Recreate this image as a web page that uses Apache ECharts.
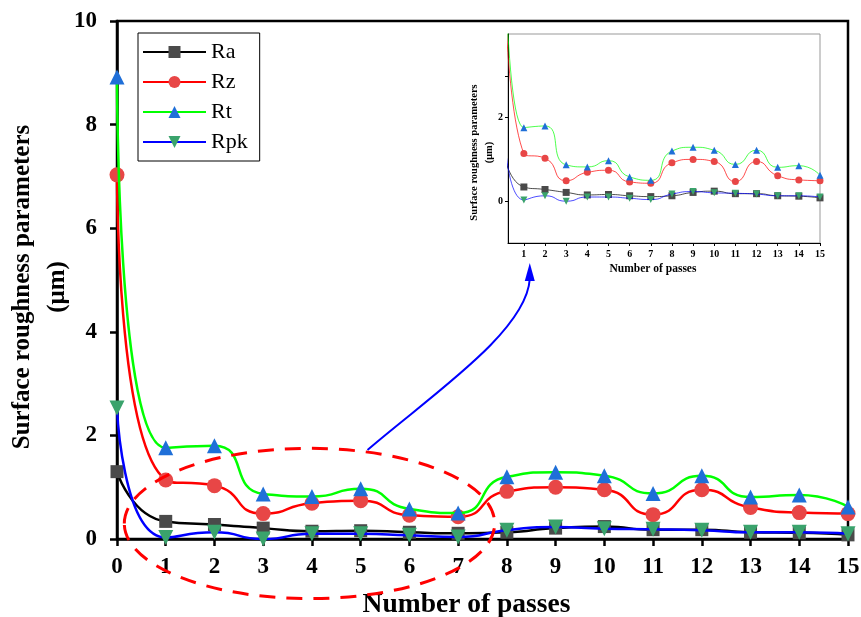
<!DOCTYPE html>
<html>
<head>
<meta charset="utf-8">
<script src="https://cdn.jsdelivr.net/npm/echarts@6/dist/echarts.min.js"></script>
<style>
    html, body { margin: 0; padding: 0; background: #fff; }
    #chart { width: 861px; height: 617px; }
</style>
</head>
<body>
<div id="chart"></div>
<script>
    // values
    var passes = [0, 1, 2, 3, 4, 5, 6, 7, 8, 9, 10, 11, 12, 13, 14, 15];
    var ra  = [1.30, 0.34, 0.28, 0.21, 0.15, 0.16, 0.13, 0.11, 0.13, 0.21, 0.24, 0.18, 0.18, 0.13, 0.12, 0.08];
    var rz  = [7.03, 1.14, 1.03, 0.49, 0.69, 0.74, 0.46, 0.43, 0.92, 1.00, 0.95, 0.47, 0.95, 0.61, 0.51, 0.49];
    var rt  = [8.92, 1.76, 1.80, 0.87, 0.82, 0.97, 0.58, 0.50, 1.20, 1.29, 1.22, 0.88, 1.22, 0.81, 0.85, 0.62];
    var rpk = [2.53, 0.03, 0.13, 0.00, 0.10, 0.10, 0.07, 0.04, 0.17, 0.23, 0.20, 0.19, 0.17, 0.13, 0.13, 0.10];
    var seriesNames = ['Ra', 'Rz', 'Rt', 'Rpk'];
    var yTicks = [0, 2, 4, 6, 8, 10];
    var insetXTicks = [1, 2, 3, 4, 5, 6, 7, 8, 9, 10, 11, 12, 13, 14, 15];
    var insetYTicks = [0, 2];

    var serif = 'Liberation Serif';
    var lineColors = ['#000000', '#ff0000', '#00ff00', '#0000ff'];
    var markColors = ['#4a4a4a', '#e84646', '#1f6fd8', '#3aa36c'];
    var symbols = ['rect', 'circle', 'triangle', 'triangle'];
    var rotates = [0, 0, 0, 180];
    var values = [ra, rz, rt, rpk];

    function pairs(arr) {
        return passes.map(function (p, i) { return [p, arr[i]]; });
    }

    var myChart = echarts.init(document.getElementById('chart'));

    var series = [];
    values.forEach(function (arr, i) {
        series.push({
            name: seriesNames[i],
            type: 'line',
            smooth: 0.6,
            xAxisIndex: 0,
            yAxisIndex: 0,
            symbol: symbols[i],
            symbolRotate: rotates[i],
            symbolSize: i === 0 ? 13 : 15,
            clip: false,
            z: 3 + i,
            lineStyle: { color: lineColors[i], width: 2.5 },
            itemStyle: { color: markColors[i] },
            data: pairs(arr)
        });
    });
    // inset copies
    values.forEach(function (arr, i) {
        series.push({
            name: seriesNames[i] + ' inset',
            type: 'line',
            smooth: 0.6,
            xAxisIndex: 1,
            yAxisIndex: 1,
            symbol: symbols[i],
            symbolRotate: rotates[i],
            symbolSize: 7,
            clip: true,
            z: 3 + i,
            lineStyle: { color: lineColors[i], width: 1, opacity: 0.7 },
            itemStyle: { color: markColors[i] },
            data: pairs(arr)
        });
    });

    var option = {
        backgroundColor: '#fff',
        animation: false,
        textStyle: { fontFamily: serif },
        legend: {
            data: seriesNames,
            orient: 'vertical',
            left: 138,
            top: 33,
            padding: [8, 12, 8, 4],
            itemWidth: 63,
            itemHeight: 15,
            itemGap: 8,
            borderColor: '#000',
            borderWidth: 1,
            borderRadius: 0,
            textStyle: { fontFamily: serif, fontSize: 22, color: '#000' }
        },
        grid: [
            {
                left: 117, right: 13, top: 21, bottom: 78,
                outerBoundsMode: 'none',
                show: true, borderColor: '#000', borderWidth: 2.5
            },
            {
                left: 508, right: 41, top: 34, bottom: 374,
                outerBoundsMode: 'none',
                show: true, borderColor: '#999', borderWidth: 1,
                backgroundColor: '#fff'
            }
        ],
        xAxis: [
            {
                gridIndex: 0,
                type: 'value',
                min: 0, max: 15, interval: 1,
                name: 'Number of passes',
                nameLocation: 'middle',
                nameGap: 52,
                nameTextStyle: { fontFamily: serif, fontSize: 27.5, fontWeight: 'bold', color: '#000', padding: [0, 32, 0, 0] },
                axisLine: { lineStyle: { color: '#000', width: 2.5 } },
                axisTick: { length: 7, lineStyle: { color: '#000', width: 2.5 } },
                axisLabel: { fontFamily: serif, fontSize: 23, fontWeight: 'bold', color: '#000', margin: 17 },
                splitLine: { show: false }
            },
            {
                gridIndex: 1,
                type: 'value',
                min: 0.25, max: 15,
                name: 'Number of passes',
                nameLocation: 'middle',
                nameGap: 20,
                nameTextStyle: { fontFamily: serif, fontSize: 11.5, fontWeight: 'bold', color: '#000', padding: [0, 22, 0, 0] },
                axisLine: { onZero: false, lineStyle: { color: '#000', width: 1 } },
                axisTick: { customValues: insetXTicks, length: 3, lineStyle: { color: '#000' } },
                axisLabel: { customValues: insetXTicks, fontFamily: serif, fontSize: 10, fontWeight: 'bold', color: '#000', margin: 6 },
                splitLine: { show: false }
            }
        ],
        yAxis: [
            {
                gridIndex: 0,
                type: 'value',
                min: 0, max: 10, interval: 2,
                name: 'Surface roughness parameters\n(\u03bcm)',
                nameLocation: 'middle',
                nameMoveOverlap: false,
                nameGap: 42,
                nameTextStyle: { fontFamily: serif, fontSize: 25, fontWeight: 'bold', color: '#000', lineHeight: 35, padding: [0, 14, 0, 0] },
                axisLine: { lineStyle: { color: '#000', width: 2.5 } },
                axisTick: { length: 7, lineStyle: { color: '#000', width: 2.5 } },
                axisLabel: { fontFamily: serif, fontSize: 23, fontWeight: 'bold', color: '#000', margin: 20,
                    customValues: yTicks },
                splitLine: { show: false }
            },
            {
                gridIndex: 1,
                type: 'value',
                min: -1, max: 4,
                name: 'Surface roughness parameters\n(\u03bcm)',
                nameLocation: 'middle',
                nameMoveOverlap: false,
                nameGap: 11,
                nameTextStyle: { fontFamily: serif, fontSize: 10.5, fontWeight: 'bold', color: '#000', lineHeight: 15, padding: [0, 28, 0, 0] },
                axisLine: { onZero: false, lineStyle: { color: '#000', width: 1 } },
                axisTick: { customValues: [0, 2, 3], length: 3, lineStyle: { color: '#000' } },
                axisLabel: { customValues: insetYTicks, fontFamily: serif, fontSize: 10, fontWeight: 'bold', color: '#000', margin: 5 },
                splitLine: { show: false }
            }
        ],
        series: series
    };
    myChart.setOption(option);

    // annotation: dashed ellipse round passes 1-7 and arrow to the inset
    var ellipseCenter = [3.95, 0.3];
    var ellipseRadius = [3.8, 1.45];
    var arrowPts = [[5.14, 1.72], [6.45, 2.78], [8.4, 4.0], [8.47, 5.25]];

    function toPx(p) {
        return myChart.convertToPixel({ gridIndex: 0 }, p);
    }
    var c = toPx(ellipseCenter);
    var e = toPx([ellipseCenter[0] + ellipseRadius[0], ellipseCenter[1] + ellipseRadius[1]]);
    var a = arrowPts.map(toPx);
    var tip = a[3];

    myChart.setOption({
        graphic: [
            {
                type: 'ellipse',
                z: 20,
                shape: { cx: c[0], cy: c[1], rx: e[0] - c[0], ry: c[1] - e[1] },
                style: { fill: null, stroke: '#ff0000', lineWidth: 3, lineDash: [16, 11] }
            },
            {
                type: 'bezierCurve',
                z: 20,
                shape: {
                    x1: a[0][0], y1: a[0][1],
                    cpx1: a[1][0], cpy1: a[1][1],
                    cpx2: a[2][0], cpy2: a[2][1],
                    x2: tip[0], y2: tip[1] + 12
                },
                style: { fill: null, stroke: '#0000ff', lineWidth: 2 }
            },
            {
                type: 'polygon',
                z: 20,
                shape: { points: [[tip[0], tip[1] - 4], [tip[0] - 5, tip[1] + 14], [tip[0] + 5, tip[1] + 14]] },
                style: { fill: '#0000ff' }
            }
        ]
    });
</script>
</body>
</html>
